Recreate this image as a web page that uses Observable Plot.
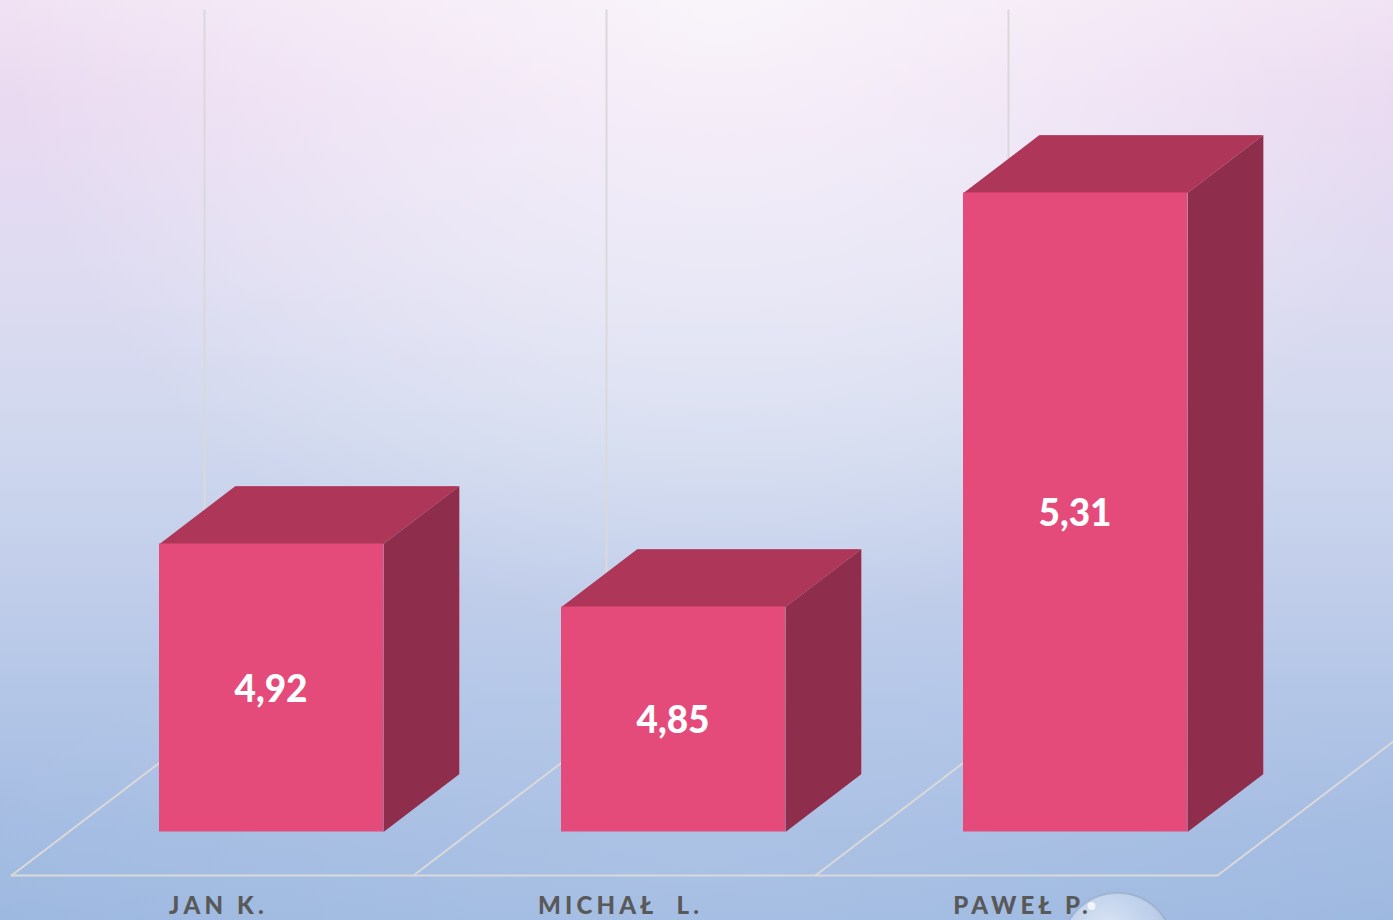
<!DOCTYPE html>
<html>
<head>
<meta charset="utf-8">
<script src="https://cdn.jsdelivr.net/npm/d3@7"></script>
<script src="https://cdn.jsdelivr.net/npm/@observablehq/plot@0.6"></script>
<style>
html,body{margin:0;padding:0;width:1393px;height:920px;overflow:hidden;background:#b9c9e8}
svg{display:block}
.vals text{font-family:Lato,"Open Sans",sans-serif;font-weight:900}
.cats text{font-family:Lato,"Open Sans",sans-serif;font-weight:900;letter-spacing:4.2px}
</style>
</head>
<body>
<div id="chart"></div>
<script>
const names = ["JAN K.", "MICHAŁ  L.", "PAWEŁ P."];
const scores = [4.92, 4.85, 5.31];

// plot geometry in data units: one slot on x, score points on y
const W = 1393, H = 920;
const pxX = 402, pxY = 900;
const xDomain = [-11 / pxX, (W - 11) / pxX];
const yDomain = [4.92 - (H - 543.5) / pxY, 4.92 + 543.5 / pxY];
const base = 4.92 - 288 / pxY;
const floorFront = 4.92 - 331.5 / pxY;
const floorBack = floorFront + 147 / pxY;
const wallTop = 4.92 + 534 / pxY;
const barL = 148 / pxX, barR = 372 / pxX;
const depthX = 76 / pxX, depthY = 58 / pxY;
const floorDepthX = 193 / pxX;
const slots = [0, 1, 2, 3];

const bars = names.map((name, i) => ({name, v: scores[i], x1: i + barL, x2: i + barR}));
const topFaces = bars.flatMap((b, i) => [
  {id: i, x: b.x1, y: b.v}, {id: i, x: b.x2, y: b.v},
  {id: i, x: b.x2 + depthX, y: b.v + depthY}, {id: i, x: b.x1 + depthX, y: b.v + depthY}
]);
const sideFaces = bars.flatMap((b, i) => [
  {id: i, x: b.x2, y: b.v}, {id: i, x: b.x2 + depthX, y: b.v + depthY},
  {id: i, x: b.x2 + depthX, y: base + depthY}, {id: i, x: b.x2, y: base}
]);
const outerEdges = bars.flatMap((b, i) => [
  {id: i, x: b.x1 + depthX, y: b.v + depthY},
  {id: i, x: b.x2 + depthX, y: b.v + depthY},
  {id: i, x: b.x2 + depthX, y: base + depthY}
]);
const diagonals = slots.flatMap(s => [
  {id: s, x: s, y: floorFront}, {id: s, x: s + floorDepthX, y: floorBack}
]);
const floorEdge = [{x: slots[0], y: floorFront}, {x: slots[3], y: floorFront}];
const bubble = [{x: 1106 / pxX, y: 4.92 - 405 / pxY}];
const glint = [{x: 1080 / pxX, y: 4.92 - 362 / pxY}];

const chart = Plot.plot({
  width: W, height: H,
  marginTop: 0, marginRight: 0, marginBottom: 0, marginLeft: 0,
  x: {type: "linear", domain: xDomain, range: [0, W], axis: null},
  y: {type: "linear", domain: yDomain, range: [H, 0], axis: null},
  style: {
    overflow: "hidden",
    background:
      "radial-gradient(ellipse 720px 640px at 720px 0px, rgba(255,255,255,.62), rgba(255,255,255,.3) 55%, rgba(255,255,255,0) 100%)," +
      "radial-gradient(ellipse 760px 300px at 700px 870px, rgba(255,255,255,.1), rgba(255,255,255,0) 100%)," +
      "linear-gradient(180deg,#f0e2f3 0px,#eadaf1 100px,#dfdbf1 260px,#d0d8ee 430px,#c0cdea 590px,#b0c4e6 720px,#a4bce2 830px,#9db8e0 920px)"
  },
  marks: [
    Plot.ruleX(slots, {x: d => d + floorDepthX, y1: floorBack, y2: wallTop, stroke: "#d9d9d9", strokeWidth: 2}),
    Plot.line(diagonals, {x: "x", y: "y", z: "id", stroke: "#d9d9d9", strokeWidth: 2}),
    Plot.line(floorEdge, {x: "x", y: "y", stroke: "#d9d9d9", strokeWidth: 2}),
    Plot.line(topFaces, {x: "x", y: "y", z: "id", fill: "#ae3659"}),
    Plot.line(sideFaces, {x: "x", y: "y", z: "id", fill: "#8f2d4c"}),
    Plot.line(outerEdges, {x: "x", y: "y", z: "id", stroke: "rgba(255,255,255,0.22)", strokeWidth: 1}),
    Plot.rect(bars, {x1: "x1", x2: "x2", y1: base, y2: "v", fill: "#e44a7a", inset: 0}),
    Plot.text(bars, {
      x: d => (d.x1 + d.x2) / 2 - 0.5 / pxX, y: d => (d.v + base) / 2 - 2 / pxY,
      text: d => d.v.toFixed(2).replace(".", ","),
      fill: "#fff", fontSize: 37, className: "vals"
    }),
    Plot.dot(bubble, {x: "x", y: "y", r: 56, fill: "url(#bubbleFill)", stroke: "rgba(150,165,190,.5)", strokeWidth: 2}),
    Plot.dot(glint, {x: "x", y: "y", r: 4, fill: "rgba(255,255,255,.75)"}),
    Plot.text(names, {
      x: (d, i) => i + 207 / pxX, y: 4.92 - 362 / pxY,
      text: d => d, fill: "#595959", fontSize: 24, className: "cats"
    }),
    () => {
      const svg = d3.create("svg:g");
      const defs = svg.append("defs");
      const g = defs.append("radialGradient").attr("id", "bubbleFill").attr("cx", "40%").attr("cy", "35%").attr("r", "60%");
      g.append("stop").attr("offset", "0%").attr("stop-color", "#eef3fb").attr("stop-opacity", .8);
      g.append("stop").attr("offset", "70%").attr("stop-color", "#dfe8f6").attr("stop-opacity", .45);
      g.append("stop").attr("offset", "100%").attr("stop-color", "#a9b9d2").attr("stop-opacity", .8);
      return svg.node();
    }
  ]
});
document.getElementById("chart").appendChild(chart);
</script>
</body>
</html>
